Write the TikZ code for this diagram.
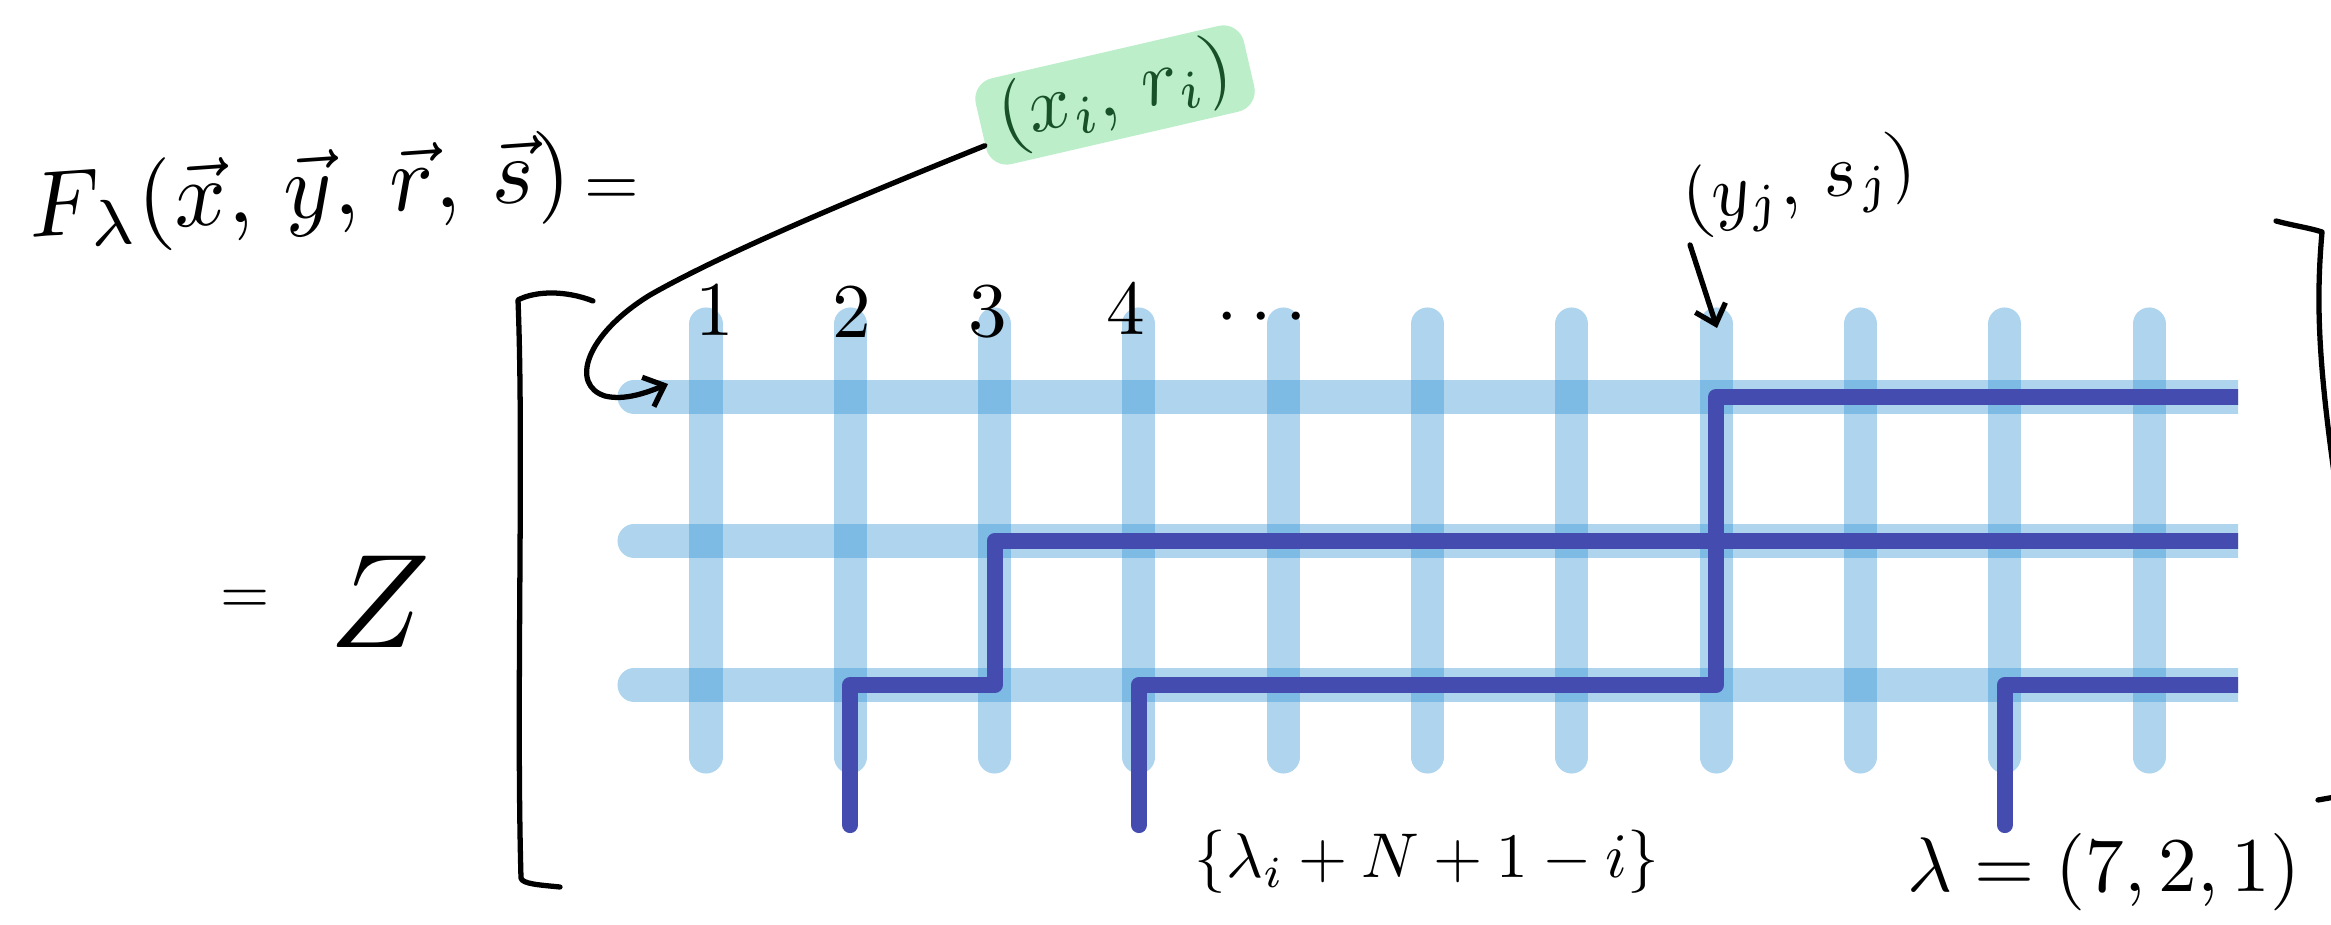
\documentclass[tikz,border=0pt]{standalone}
\usepackage{graphicx}
\usepackage{amsmath}
\usetikzlibrary{arrows.meta,calc}
\definecolor{gridblue}{RGB}{52,148,212}
\definecolor{pathblue}{RGB}{68,76,176}
\definecolor{hlgreen}{RGB}{188,238,201}
\definecolor{txtgreen}{RGB}{24,80,40}
\begin{document}
\begin{tikzpicture}[x=0.01cm,y=-0.01cm,
  gridline/.style={line width=9.4pt, draw=gridblue, draw opacity=0.4, line cap=round},
  lpath/.style={line width=4.6pt, draw=pathblue, line cap=round, line join=round},
  pen/.style={line width=1.5pt, draw=black, line cap=round, line join=round},
  hand/.style={inner sep=0pt, text=black},
  num/.style={hand},
  penarrow/.style={pen, -{Straight Barb[length=5pt,width=9pt]}},
]
\useasboundingbox (0,0) rectangle (2331,925);

% vertical grid lines
\foreach \i in {0,...,10} {
  \draw[gridline] ({706+144.3*\i},324) -- ({706+144.3*\i},757);
}
% horizontal grid lines and lattice paths (cut flat on the right)
\begin{scope}
  \clip (0,0) rectangle (2238,925);
  \foreach \y in {397,541,685} {
    \draw[gridline] (634,\y) -- (2300,\y);
  }
  \draw[lpath] (850.3,825) -- (850.3,685) -- (994.6,685) -- (994.6,541) -- (2300,541);
  \draw[lpath] (1138.9,825) -- (1138.9,685) -- (1716.1,685) -- (1716.1,397) -- (2300,397);
  \draw[lpath] (2004.7,825) -- (2004.7,685) -- (2300,685);
\end{scope}

% column numbers
\node[num] (n1) at (715,310) {\scalebox{2.2}{1}};
\node[num] (n2) at (852,312) {\scalebox{2.2}{2}};
\node[num] (n3) at (988,312) {\scalebox{2.2}{3}};
\node[num] (n4) at (1126,308) {\scalebox{2.2}{4}};
\node[num] (ndots) at (1268,318) {\scalebox{2.2}{$\cdots$}};

% formula
\node[hand, rotate=4] (F) at (300,195)
  {\scalebox{2.65}{$F_\lambda(\vec{x},\,\vec{y},\,\vec{r},\,\vec{s})$}};
\node[hand] (eq1) at (612,193) {\scalebox{2.0}{$=$}};
\node[hand] (eq2) at (245,602) {\scalebox{1.8}{$=$}};
\node[hand] (Z) at (380,602) {\scalebox{3.8}{$Z$}};

% highlighted label
\node[fill=hlgreen, rotate=13, minimum width=2.75cm, minimum height=0.88cm,
  rounded corners=6pt, text=txtgreen, inner sep=0pt]
  (xr) at (1115,95) {\scalebox{2.2}{$(x_i,\,r_i)$}};
\coordinate (row1a) at (668,384);
\draw[penarrow] ($(xr.west)!0.45!(xr.south west)$)
  .. controls (850,200) and (720,255) .. (650,295)
  .. controls (585,335) and (570,385) .. (605,396)
  .. controls (625,401) and (648,392) .. (row1a);

% (y_j, s_j) label
\node[hand, rotate=10] (yj) at (1800,186) {\scalebox{2.1}{$(y_j,\,s_j)$}};
\coordinate (c8top) at (1717,328);
\draw[penarrow] (yj.south west) -- (c8top);

% bottom labels
\node[hand] (set) at (1427,862) {\scalebox{1.8}{$\{\lambda_i+N+1-i\}$}};
\node[hand] (lam) at (2104,872) {\scalebox{2.2}{$\lambda=(7,2,1)$}};

% brackets
\draw[pen] (593,301) .. controls (565,290) and (535,291) .. (518,300)
  .. controls (524,450) and (516,700) .. (521,878)
  .. controls (522,884) and (540,885) .. (560,887);
\draw[pen] (2276,221) .. controls (2295,226) and (2310,228) .. (2322,232)
  .. controls (2316,300) and (2318,360) .. (2335,480);
\draw[pen] (2318,800) -- (2335,797);
\end{tikzpicture}
\end{document}
